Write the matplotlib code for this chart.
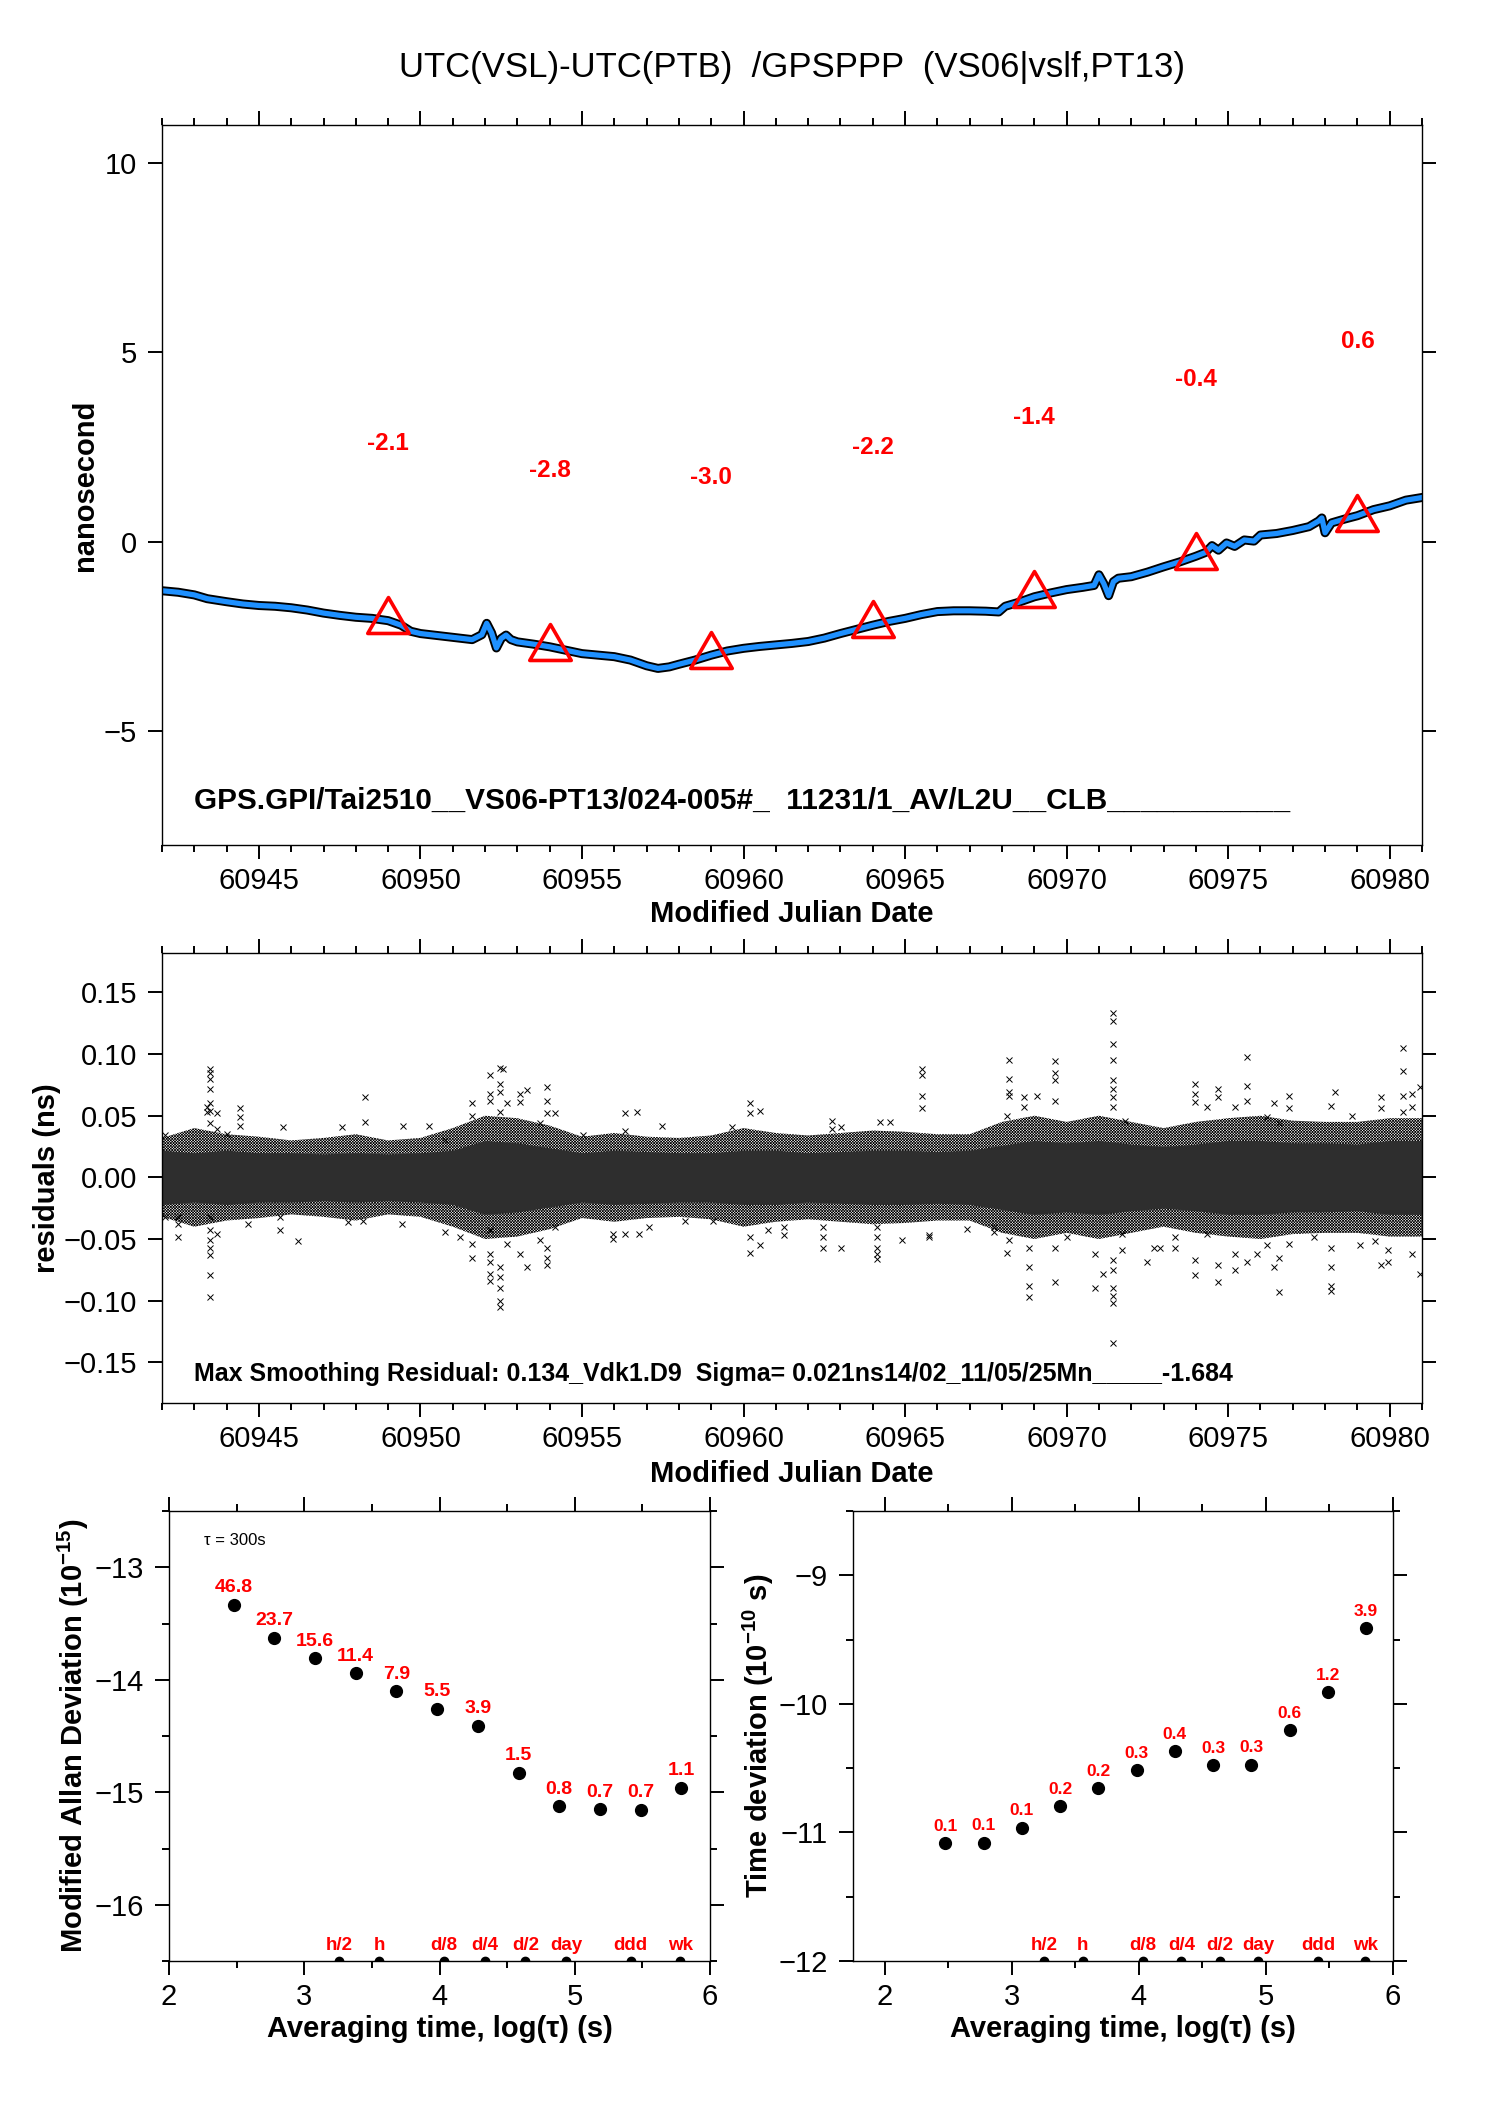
import numpy as np
import matplotlib
matplotlib.use('Agg')
import matplotlib.pyplot as plt
from matplotlib.path import Path
from matplotlib.ticker import MultipleLocator, FuncFormatter

plt.rcParams['font.family'] = ['Liberation Sans', 'DejaVu Sans']
plt.rcParams['mathtext.fontset'] = 'custom'
plt.rcParams['mathtext.rm'] = 'Liberation Sans'
plt.rcParams['mathtext.bf'] = 'Liberation Sans:bold'
plt.rcParams['hatch.linewidth'] = 0.5

W, H, DPI = 1488, 2105, 100

# ---- top panel: UTC(VSL)-UTC(PTB), ns
mjd = [60942.0, 60942.5, 60943.0, 60943.4, 60944.0, 60944.5, 60945.0, 60945.5,
       60946.0, 60946.5, 60947.0, 60947.5, 60948.0, 60948.5, 60949.0, 60949.4,
       60949.7, 60950.0, 60950.5, 60951.0, 60951.6, 60951.9, 60952.05, 60952.2,
       60952.35, 60952.5, 60952.65, 60952.8, 60953.0, 60953.5, 60954.0, 60954.5,
       60955.0, 60955.5, 60956.0, 60956.5, 60957.0, 60957.35, 60957.7, 60958.0,
       60958.5, 60959.0, 60959.5, 60960.0, 60960.5, 60961.0, 60961.5, 60962.0,
       60962.5, 60963.0, 60963.5, 60964.0, 60964.5, 60965.0, 60965.5, 60966.0,
       60966.5, 60967.0, 60967.5, 60967.9, 60968.1, 60968.5, 60969.0, 60969.5,
       60970.0, 60970.5, 60970.85, 60971.0, 60971.15, 60971.3, 60971.45, 60971.6,
       60972.0, 60972.5, 60973.0, 60973.5, 60974.0, 60974.3, 60974.5, 60974.7,
       60974.95, 60975.2, 60975.5, 60975.8, 60976.0, 60976.5, 60977.0, 60977.5,
       60977.8, 60977.9, 60978.0, 60978.2, 60978.6, 60979.0, 60979.5, 60980.0,
       60980.5, 60981.0]
ns = [-1.29, -1.33, -1.40, -1.50, -1.58, -1.64, -1.68, -1.70,
      -1.74, -1.80, -1.88, -1.94, -1.99, -2.02, -2.08, -2.20,
      -2.36, -2.42, -2.47, -2.52, -2.58, -2.45, -2.15, -2.40,
      -2.80, -2.55, -2.46, -2.58, -2.64, -2.70, -2.77, -2.86,
      -2.95, -2.99, -3.03, -3.12, -3.27, -3.34, -3.30, -3.23,
      -3.12, -2.99, -2.88, -2.81, -2.76, -2.72, -2.68, -2.63,
      -2.54, -2.42, -2.31, -2.20, -2.10, -2.02, -1.92, -1.84,
      -1.82, -1.82, -1.83, -1.85, -1.70, -1.60, -1.45, -1.35,
      -1.26, -1.20, -1.15, -0.87, -1.10, -1.42, -1.05, -0.96,
      -0.92, -0.80, -0.66, -0.53, -0.38, -0.28, -0.10, -0.22,
      -0.03, -0.12, 0.05, 0.02, 0.18, 0.22, 0.30, 0.40,
      0.55, 0.63, 0.24, 0.50, 0.60, 0.69, 0.85, 0.95,
      1.10, 1.17]

tri_mjd = [60949, 60954, 60959, 60964, 60969, 60974, 60979]
tri_ns = [-2.1, -2.8, -3.0, -2.2, -1.4, -0.4, 0.6]
tri_lbl = ['-2.1', '-2.8', '-3.0', '-2.2', '-1.4', '-0.4', '0.6']

top_text = 'GPS.GPI/Tai2510__VS06-PT13/024-005#_  11231/1_AV/L2U__CLB___________'

# ---- residual panel (ns): band half-widths per day + outliers
res_day = np.arange(60942, 60982)
core_hw = [0.022, 0.020, 0.022, 0.020, 0.020, 0.019, 0.020, 0.019, 0.020, 0.022,
           0.030, 0.028, 0.024, 0.020, 0.022, 0.021, 0.020, 0.020, 0.022, 0.022,
           0.020, 0.021, 0.022, 0.022, 0.021, 0.022, 0.026, 0.030, 0.028, 0.030,
           0.027, 0.025, 0.027, 0.030, 0.030, 0.028, 0.028, 0.027, 0.030, 0.030]
fringe_hw = [0.032, 0.040, 0.035, 0.033, 0.030, 0.032, 0.035, 0.030, 0.032, 0.040,
             0.050, 0.048, 0.042, 0.033, 0.036, 0.033, 0.032, 0.034, 0.040, 0.036,
             0.034, 0.036, 0.038, 0.037, 0.035, 0.035, 0.045, 0.050, 0.045, 0.050,
             0.045, 0.040, 0.045, 0.048, 0.050, 0.046, 0.045, 0.045, 0.048, 0.048]

out_cols = [60942.09, 60942.51, 60943.38, 60943.49, 60943.69, 60944.00, 60944.41, 60944.67,
            60945.65, 60945.74, 60946.22, 60947.56, 60947.77, 60948.23, 60948.28, 60949.44,
            60949.47, 60950.25, 60950.76, 60951.23, 60951.59, 60952.15, 60952.46, 60952.57,
            60952.67, 60953.08, 60953.29, 60953.70, 60953.91, 60954.17, 60955.04, 60955.97,
            60956.33, 60956.70, 60956.75, 60957.06, 60957.47, 60958.19, 60959.07, 60959.64,
            60960.21, 60960.51, 60960.77, 60961.26, 60962.47, 60962.73, 60963.01, 60964.13,
            60964.23, 60964.54, 60964.90, 60965.52, 60965.73, 60966.91, 60967.74, 60968.15,
            60968.23, 60968.67, 60968.85, 60969.08, 60969.65, 60970.01, 60970.89, 60971.14,
            60971.45, 60971.71, 60971.81, 60972.48, 60972.70, 60972.90, 60973.37, 60973.98,
            60974.34, 60974.70, 60975.22, 60975.58, 60975.89, 60976.20, 60976.41, 60976.58,
            60976.87, 60977.65, 60978.17, 60978.32, 60978.83, 60979.09, 60979.56, 60979.73,
            60979.94, 60980.41, 60980.69, 60980.95]
out_vals = [[0.034, -0.032], [-0.032, -0.038, -0.048], [0.057, 0.053],
            [0.088, 0.085, 0.080, 0.072, 0.060, 0.054, 0.044, -0.032, -0.043, -0.051,
             -0.057, -0.063, -0.079, -0.097],
            [0.052, 0.039, -0.046], [0.035], [0.056, 0.049, 0.042], [-0.038],
            [-0.043, -0.032], [0.041], [-0.052], [0.041], [-0.036], [-0.035], [0.065, 0.045],
            [-0.038], [0.042], [0.042], [0.030, -0.044], [-0.048], [0.060, 0.050, -0.054, -0.065],
            [0.083, 0.068, 0.062, -0.043, -0.062, -0.069, -0.078, -0.084],
            [0.089, 0.076, 0.069, 0.053, -0.073, -0.081, -0.090, -0.100, -0.105], [0.088],
            [0.060, -0.054], [0.068, 0.061, -0.062], [0.071, -0.073], [0.044, -0.051],
            [0.073, 0.062, 0.052, -0.057, -0.065, -0.071], [0.052, -0.040], [0.034],
            [-0.046, -0.050], [0.052, 0.038, -0.046], [0.053], [-0.046], [-0.040], [0.042],
            [-0.035], [-0.035], [0.041], [0.060, 0.052, -0.048, -0.061], [0.054, -0.055],
            [-0.043], [-0.040, -0.047], [-0.040, -0.048, -0.057], [0.046, 0.039],
            [0.041, -0.057], [-0.040, -0.048, -0.057, -0.062, -0.066], [0.045], [0.045],
            [-0.051], [0.088, 0.083, 0.066, 0.056], [-0.047, -0.048], [-0.042],
            [-0.040, -0.044], [0.050, -0.061], [0.095, 0.080, 0.069, 0.066, -0.051],
            [0.057, 0.065], [-0.057, -0.073, -0.088, -0.097], [0.066],
            [0.094, 0.085, 0.079, 0.062, -0.057, -0.085], [-0.048], [-0.062, -0.090],
            [-0.078],
            [0.133, 0.127, 0.108, 0.095, 0.079, 0.072, 0.065, 0.057, -0.067, -0.075,
             -0.090, -0.096, -0.102, -0.134],
            [-0.046, -0.059], [0.046], [-0.069], [-0.057], [-0.057], [-0.057, -0.048],
            [0.076, 0.068, 0.061, -0.067, -0.079], [0.057, -0.046],
            [0.072, 0.065, -0.071, -0.085], [0.057, -0.062, -0.075],
            [0.098, 0.074, 0.062, -0.069], [-0.062], [0.049, -0.055], [0.060, -0.073],
            [0.044, -0.093, -0.065], [0.066, 0.056, -0.054], [-0.048],
            [0.058, -0.057, -0.073, -0.088, -0.092], [0.069], [0.050], [-0.055], [-0.052],
            [0.065, 0.056, -0.071], [-0.059, -0.069], [0.105, 0.086, 0.066, 0.053],
            [0.068, 0.057, -0.062], [0.073, -0.078]]

res_text = 'Max Smoothing Residual: 0.134_Vdk1.D9  Sigma= 0.021ns14/02_11/05/25Mn_____-1.684'

# ---- stability panels
tau = [300, 600, 1200, 2400, 4800, 9600, 19200, 38400, 76800, 153600, 307200, 614400]
adev_log = [-13.333, -13.625, -13.807, -13.94, -14.10, -14.256, -14.407, -14.825,
            -15.123, -15.151, -15.154, -14.958]
adev_lbl = ['46.8', '23.7', '15.6', '11.4', '7.9', '5.5', '3.9', '1.5', '0.8', '0.7', '0.7', '1.1']
tdev_log = [-11.086, -11.08, -10.963, -10.798, -10.656, -10.515, -10.365, -10.475,
            -10.472, -10.202, -9.908, -9.411]
tdev_lbl = ['0.1', '0.1', '0.1', '0.2', '0.2', '0.3', '0.4', '0.3', '0.3', '0.6', '1.2', '3.9']
mark_tau = [1800, 3600, 10800, 21600, 43200, 86400, 259200, 604800]
mark_lbl = ['h/2', 'h', 'd/8', 'd/4', 'd/2', 'day', 'ddd', 'wk']

RED = '#FF0000'
BLUE = '#1E90FF'


def px_axes(fig, left, top, right, bottom):
    return fig.add_axes([left / W, 1 - bottom / H, (right - left) / W, (bottom - top) / H])


def ftext(fig, x, y, s, **kw):
    return fig.text(x / W, 1 - y / H, s, **kw)


def style(ax, size=21):
    ax.tick_params(which='both', direction='out', top=True, right=True,
                   width=1.4, labelsize=size)
    ax.tick_params(which='major', length=10)
    ax.tick_params(which='minor', length=5)
    ax.tick_params(axis='x', pad=6)
    ax.tick_params(axis='y', pad=8)
    for sp in ax.spines.values():
        sp.set_linewidth(1.0)


def minus(fmt):
    def f(v, pos):
        s = fmt.format(v)
        if s.startswith('-') and float(s) == 0:
            s = s[1:]
        return s.replace('-', '\u2212')
    return FuncFormatter(f)


fig = plt.figure(figsize=(W / DPI, H / DPI), dpi=DPI)

ftext(fig, 792, 68, 'UTC(VSL)-UTC(PTB)  /GPSPPP  (VS06|vslf,PT13)',
      ha='center', va='center', fontsize=25)

# top panel
ax1 = px_axes(fig, 162, 125, 1422, 845)
ax1.plot(mjd, ns, color='k', lw=6.5, solid_joinstyle='round')
ax1.plot(mjd, ns, color=BLUE, lw=3.8, solid_joinstyle='round')
tri = Path([(0, 1), (-0.866, -0.5), (0.866, -0.5), (0, 1)],
           [Path.MOVETO, Path.LINETO, Path.LINETO, Path.CLOSEPOLY])
ax1.plot(tri_mjd, tri_ns, linestyle='none', marker=tri, ms=34.5,
         mfc='none', mec=RED, mew=2.6)
for x, y, s in zip(tri_mjd, tri_ns, tri_lbl):
    ax1.annotate(s, (x, y), xytext=(0, 128), textcoords='offset points',
                 ha='center', va='center', color=RED, fontsize=17.5, fontweight='bold')
ax1.set_xlim(60942, 60981)
ax1.set_ylim(-8, 11)
ax1.xaxis.set_major_locator(MultipleLocator(5))
ax1.xaxis.set_minor_locator(MultipleLocator(1))
ax1.yaxis.set_major_locator(MultipleLocator(5))
ax1.xaxis.set_major_formatter(minus('{:.0f}'))
ax1.yaxis.set_major_formatter(minus('{:.0f}'))
style(ax1)
ax1.text(60943.0, -7.04, top_text, fontsize=21.4, fontweight='bold', va='baseline')
ftext(fig, 792, 922, 'Modified Julian Date', ha='center', va='baseline',
      fontsize=21, fontweight='bold')
ftext(fig, 93, 485, 'nanosecond', rotation=90, rotation_mode='anchor',
      ha='center', va='baseline', fontsize=21, fontweight='bold')

# residual panel
ax2 = px_axes(fig, 162, 953, 1422, 1403)
ax2.fill_between(res_day, [-v for v in fringe_hw], fringe_hw, facecolor='white',
                 edgecolor='black', hatch='x' * 12, linewidth=0)
ax2.fill_between(res_day, [-v for v in core_hw], core_hw, color='0.18', linewidth=0)
ox, oy = [], []
for c, vals in zip(out_cols, out_vals):
    ox += [c] * len(vals)
    oy += vals
ax2.plot(ox, oy, 'x', color='k', ms=4, mew=0.7)
ax2.set_xlim(60942, 60981)
ax2.set_ylim(-0.183, 0.182)
ax2.xaxis.set_major_locator(MultipleLocator(5))
ax2.xaxis.set_minor_locator(MultipleLocator(1))
ax2.yaxis.set_major_locator(MultipleLocator(0.05))
ax2.xaxis.set_major_formatter(minus('{:.0f}'))
ax2.yaxis.set_major_formatter(minus('{:.2f}'))
style(ax2)
ax2.text(60943.0, -0.165, res_text, fontsize=18, fontweight='bold', va='baseline')
ftext(fig, 792, 1482, 'Modified Julian Date', ha='center', va='baseline',
      fontsize=21, fontweight='bold')
ftext(fig, 55, 1178, 'residuals (ns)', rotation=90, rotation_mode='anchor',
      ha='center', va='baseline', fontsize=21, fontweight='bold')

# stability panels
lt = np.log10(tau)
lm = np.log10(mark_tau)


def stab_panel(ax, yv, lbls, lsize, xlo, ylo, yhi):
    ax.plot(lt, yv, 'o', color='k', ms=8.5, clip_on=False)
    for x, y, s in zip(lt, yv, lbls):
        ax.annotate(s, (x, y), xytext=(0, 8.8), textcoords='offset points',
                    ha='center', va='baseline', color=RED, fontsize=lsize, fontweight='bold')
    ax.plot(lm, [ylo] * len(lm), 'o', color='k', ms=6)
    for x, s in zip(lm, mark_lbl):
        ax.annotate(s, (x, ylo), xytext=(0, 8), textcoords='offset points',
                    ha='center', va='baseline', color=RED, fontsize=13.5, fontweight='bold')
    ax.set_xlim(xlo, 6)
    ax.set_ylim(ylo, yhi)
    ax.xaxis.set_major_locator(MultipleLocator(1))
    ax.xaxis.set_minor_locator(MultipleLocator(0.5))
    ax.yaxis.set_major_locator(MultipleLocator(1))
    ax.yaxis.set_minor_locator(MultipleLocator(0.5))
    ax.xaxis.set_major_formatter(minus('{:.0f}'))
    ax.yaxis.set_major_formatter(minus('{:.0f}'))
    style(ax)


ax3 = px_axes(fig, 169, 1511, 710, 1961)
stab_panel(ax3, adev_log, adev_lbl, 14, 2, -16.5, -12.5)
ax3.text(0.064, 0.924, '\u03c4 = 300s', transform=ax3.transAxes, fontsize=12, va='baseline')
ftext(fig, 440, 2037, 'Averaging time, log(\u03c4) (s)', ha='center', va='baseline',
      fontsize=21, fontweight='bold')
ftext(fig, 83, 1736, 'Modified Allan Deviation (10$^{\\mathbf{-15}}$)', rotation=90,
      rotation_mode='anchor', ha='center', va='baseline', fontsize=21, fontweight='bold')

ax4 = px_axes(fig, 853, 1511, 1393, 1961)
stab_panel(ax4, tdev_log, tdev_lbl, 12.5, 1.75, -12, -8.5)
ftext(fig, 1123, 2037, 'Averaging time, log(\u03c4) (s)', ha='center', va='baseline',
      fontsize=21, fontweight='bold')
ftext(fig, 768, 1736, 'Time deviation (10$^{\\mathbf{-10}}$ s)', rotation=90,
      rotation_mode='anchor', ha='center', va='baseline', fontsize=21, fontweight='bold')

fig.savefig('out.png', dpi=DPI)
